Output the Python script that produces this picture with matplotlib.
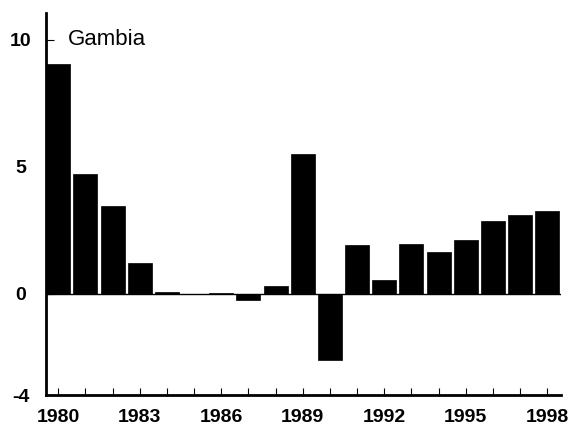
import numpy as np
import matplotlib.pyplot as plt

plt.rcParams["font.family"] = ["Liberation Sans", "DejaVu Sans"]

years = np.arange(1980, 1999)
values = [9.05, 4.7, 3.45, 1.2, 0.05, -0.03, 0.03, -0.25, 0.28, 5.5,
          -2.6, 1.93, 0.55, 1.97, 1.65, 2.09, 2.87, 3.11, 3.27]
year_labels = [str(y) for y in range(1980, 1999, 3)]
y_ticks = [-4, 0, 5, 10]

fig = plt.figure(figsize=(5.72, 4.28), dpi=100)
ax = fig.add_axes([0.080, 0.077, 0.901, 0.893])

ax.bar(years, values, width=0.88, color="black", edgecolor="black", linewidth=0.5)
ax.axhline(0, color="black", linewidth=1.0)

ax.set_xlim(1980 - 0.46, 1998 + 0.51)
ax.set_ylim(-4, 11.06)

ax.set_xticks(years)
ax.set_xticklabels([str(y) if str(y) in year_labels else "" for y in years])
ax.set_yticks(y_ticks)
ax.set_yticklabels([str(t) for t in y_ticks])

ax.tick_params(axis="x", direction="in", length=5, width=0.8, pad=10,
               labelsize=14, labelcolor="black")
ax.tick_params(axis="y", direction="in", length=6, width=0.8, pad=18,
               labelsize=14)
for lab in ax.get_xticklabels() + ax.get_yticklabels():
    lab.set_fontweight("bold")
for lab in ax.get_yticklabels():
    lab.set_horizontalalignment("center")

for s in ["top", "right"]:
    ax.spines[s].set_visible(False)
ax.spines["left"].set_linewidth(2)
ax.spines["bottom"].set_linewidth(2)

ax.text(1980.35, 10, "Gambia", fontsize=16, va="center", ha="left")

fig.savefig("out.png", dpi=100)
